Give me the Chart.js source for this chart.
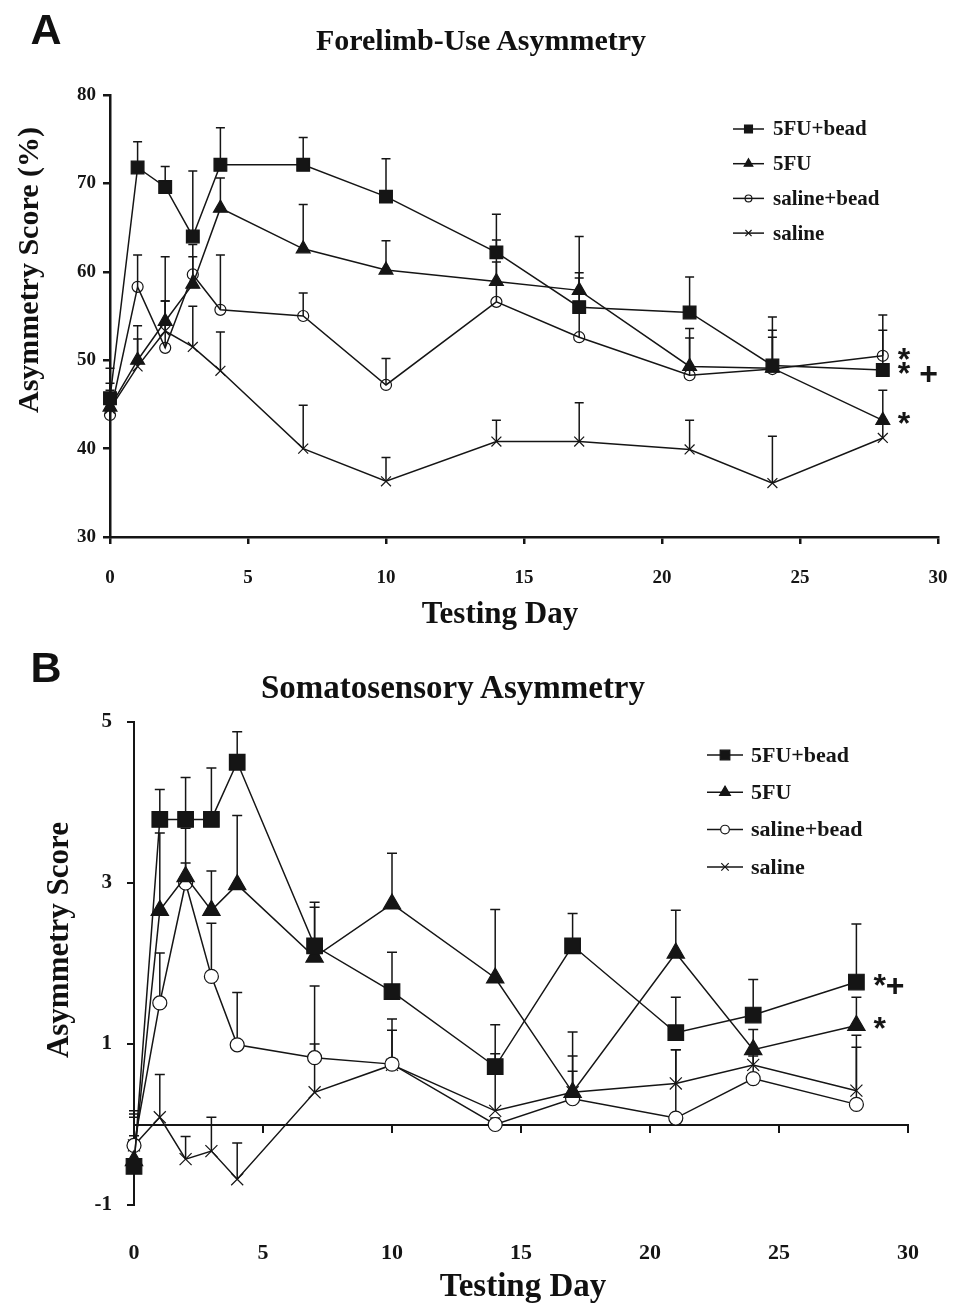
<!DOCTYPE html>
<html>
<head>
<meta charset="utf-8">
<script src="https://cdn.jsdelivr.net/npm/chart.js"></script>
<style>
  body { margin: 0; background: #fff; }
  #page { position: relative; width: 954px; height: 1307px; overflow: hidden; background: #fff; }
  canvas { position: absolute; left: 0; }
  .lbl { position: absolute; transform: translate(-50%, -50%); line-height: 1; white-space: nowrap; color: #111;
         font-family: 'Liberation Serif', 'Times New Roman', serif; font-weight: bold; }
  .panel { font-family: 'Liberation Sans', Arial, sans-serif; }
  .rot { transform: translate(-50%, -50%) rotate(-90deg); }
</style>
</head>
<body>
<div id="page">
  <canvas id="chartA" width="954" height="640" style="top:0"></canvas>
  <canvas id="chartB" width="954" height="667" style="top:640px"></canvas>

  <div class="lbl panel" style="left:46px;top:29px;font-size:43px">A</div>
  <div class="lbl" style="left:481px;top:40px;font-size:30px">Forelimb-Use Asymmetry</div>
  <div class="lbl rot" style="left:28px;top:270px;font-size:30px">Asymmetry Score (%)</div>
  <div class="lbl" style="left:500px;top:612px;font-size:31px">Testing Day</div>

  <div class="lbl panel" style="left:46px;top:667px;font-size:43px">B</div>
  <div class="lbl" style="left:453px;top:687px;font-size:33px">Somatosensory Asymmetry</div>
  <div class="lbl rot" style="left:57px;top:940px;font-size:31px">Asymmetry Score</div>
  <div class="lbl" style="left:523px;top:1285px;font-size:33px">Testing Day</div>
</div>

<script>
// testing days and group names
var days = [0, 1, 2, 3, 4, 7, 10, 14, 17, 21, 24, 28];
var groups = ['5FU+bead', '5FU', 'saline+bead', 'saline'];
var xTicks = [0, 5, 10, 15, 20, 25, 30];
var yTicksA = [30, 40, 50, 60, 70, 80];
var yTicksB = [-1, 1, 3, 5];

// A: forelimb-use asymmetry (%), mean and upper SEM
var forelimbBead = [45.7, 71.8, 69.6, 64.0, 72.1, 72.1, 68.5, 62.2, 56.0, 55.4, 49.4, 48.9];
var forelimb5FU = [44.7, 50.0, 54.4, 58.6, 67.2, 62.6, 60.2, 58.9, 57.9, 49.3, 49.1, 43.2];
var forelimbSalBead = [43.8, 58.3, 51.4, 59.7, 55.7, 55.0, 47.2, 56.6, 52.6, 48.3, 49.0, 50.5];
var forelimbSaline = [44.5, 49.3, 53.3, 51.5, 48.8, 40.0, 36.3, 40.8, 40.8, 39.9, 36.1, 41.2];
var forelimbBeadSem = [1.7, 2.9, 2.3, 7.4, 4.2, 3.1, 4.3, 4.3, 8.0, 4.0, 5.5, 4.5];
var forelimb5FUSem = [4.4, 3.9, 7.3, 4.5, 3.4, 5.0, 3.3, 4.7, 1.4, 4.3, 4.3, 3.4];
var forelimbSalBeadSem = [1.7, 3.6, 5.3, 2.0, 6.2, 2.6, 3.0, 4.5, 7.3, 4.2, 3.6, 4.6];
var forelimbSalineSem = [2.1, 3.1, 3.4, 4.6, 4.4, 4.9, 2.7, 2.4, 4.4, 3.3, 5.3, 2.0];
var forelimbMarks = ['* +', '*', '*', ''];

// B: somatosensory asymmetry score, mean and upper SEM
var somaBead = [-0.52, 3.79, 3.79, 3.79, 4.5, 2.22, 1.65, 0.72, 2.22, 1.14, 1.36, 1.77];
var soma5FU = [-0.45, 2.66, 3.08, 2.66, 2.98, 2.08, 2.74, 1.82, 0.40, 2.13, 0.93, 1.23];
var somaSalBead = [-0.26, 1.51, 3.0, 1.84, 0.99, 0.83, 0.75, 0.0, 0.32, 0.08, 0.57, 0.25];
var somaSaline = [-0.26, 0.09, -0.43, -0.33, -0.68, 0.40, 0.74, 0.17, 0.40, 0.51, 0.74, 0.42];
var somaBeadSem = [0.69, 0.37, 0.52, 0.64, 0.38, 0.54, 0.49, 0.52, 0.40, 0.44, 0.44, 0.72];
var soma5FUSem = [0.58, 0.96, 0.60, 0.49, 0.86, 0.62, 0.63, 0.85, 0.75, 0.53, 0.25, 0.35];
var somaSalBeadSem = [0.35, 0.62, 0.25, 0.66, 0.65, 0.89, 0.56, 0.08, 0.34, 0.85, 0.28, 0.71];
var somaSalineSem = [0.12, 0.53, 0.28, 0.42, 0.45, 0.60, 0.43, 0.71, 0.45, 0.42, 0.14, 0.69];
var somaMarks = ['*+', '*', '', ''];

var ink = '#151515';
var serif = "'Liberation Serif', 'Times New Roman', serif";

// upper error bars drawn from each point through the chart scales
var errorBars = {
    id: 'errorBars',
    beforeDatasetsDraw: function(chart, args, opts) {
        var ctx = chart.ctx, xs = chart.scales.x, ys = chart.scales.y;
        ctx.save();
        ctx.strokeStyle = ink;
        ctx.lineWidth = opts.width;
        chart.data.datasets.forEach(function(ds) {
            ds.data.forEach(function(p, j) {
                var x = xs.getPixelForValue(p.x);
                var y0 = ys.getPixelForValue(p.y);
                var y1 = ys.getPixelForValue(p.y + ds.sem[j]);
                ctx.beginPath();
                ctx.moveTo(x, y0);
                ctx.lineTo(x, y1);
                ctx.moveTo(x - opts.cap, y1);
                ctx.lineTo(x + opts.cap, y1);
                ctx.stroke();
            });
        });
        ctx.restore();
    }
};

// legend box inside the plot, like the original figure
var insideLegend = {
    id: 'insideLegend',
    afterDraw: function(chart, args, opts) {
        var ctx = chart.ctx;
        ctx.save();
        chart.data.datasets.forEach(function(ds, i) {
            var y = opts.top + i * opts.gap;
            ctx.strokeStyle = ink;
            ctx.lineWidth = 1.5;
            ctx.beginPath();
            ctx.moveTo(opts.left, y);
            ctx.lineTo(opts.left + opts.line, y);
            ctx.stroke();
            ctx.fillStyle = ds.pointBackgroundColor;
            ctx.lineWidth = 1.2;
            Chart.helpers.drawPoint(ctx, {
                pointStyle: ds.pointStyle,
                radius: ds.pointRadius * opts.scale,
                borderWidth: 1.2,
                rotation: 0
            }, opts.left + opts.line / 2, y);
            ctx.fillStyle = ink;
            ctx.font = opts.font;
            ctx.textAlign = 'left';
            ctx.textBaseline = 'middle';
            ctx.fillText(ds.label, opts.left + opts.line + opts.textGap, y + 1);
        });
        ctx.restore();
    }
};

// significance marks after the last point of a series
var sigMarks = {
    id: 'sigMarks',
    afterDatasetsDraw: function(chart, args, opts) {
        var ctx = chart.ctx, xs = chart.scales.x, ys = chart.scales.y;
        ctx.save();
        ctx.fillStyle = ink;
        ctx.font = opts.font;
        ctx.textAlign = 'left';
        ctx.textBaseline = 'alphabetic';
        chart.data.datasets.forEach(function(ds, i) {
            var txt = opts.marks[i];
            if (!txt) return;
            var last = ds.data[ds.data.length - 1];
            ctx.fillText(txt, xs.getPixelForValue(last.x) + opts.dx, ys.getPixelForValue(last.y) + opts.dy);
        });
        ctx.restore();
    }
};

function makeSets(values, sems, sizes, hollowFill) {
    var styles = ['rect', 'triangle', 'circle', 'crossRot'];
    var fills = [ink, ink, hollowFill, ink];
    return values.map(function(vals, i) {
        return {
            label: groups[i],
            data: days.map(function(d, j) { return { x: d, y: vals[j] }; }),
            sem: sems[i],
            borderColor: ink,
            borderWidth: 1.5,
            tension: 0,
            fill: false,
            clip: false,
            pointStyle: styles[i],
            pointRadius: sizes[i],
            pointBackgroundColor: fills[i],
            pointBorderColor: ink,
            pointBorderWidth: 1.2
        };
    });
}

function axisGrid(width) {
    return { display: true, drawOnChartArea: false, drawTicks: true, tickLength: 7, color: ink, lineWidth: width };
}

window.addEventListener('load', function() {
    new Chart(document.getElementById('chartA'), {
        type: 'line',
        data: {
            datasets: makeSets(
                [forelimbBead, forelimb5FU, forelimbSalBead, forelimbSaline],
                [forelimbBeadSem, forelimb5FUSem, forelimbSalBeadSem, forelimbSalineSem],
                [9, 8, 5.5, 7], 'rgba(0,0,0,0)')
        },
        options: {
            responsive: false,
            animation: false,
            devicePixelRatio: 1,
            layout: { padding: { left: 0, right: 16, top: 95, bottom: 0 } },
            plugins: {
                legend: { display: false },
                tooltip: { enabled: false },
                errorBars: { width: 1.5, cap: 4.5 },
                insideLegend: { left: 733, top: 129, gap: 34.7, line: 31, textGap: 9, scale: 0.62, font: 'bold 21px ' + serif },
                sigMarks: { marks: forelimbMarks, dx: 15, dy: 14, font: 'bold 32px "Liberation Sans", Arial, sans-serif' }
            },
            scales: {
                x: {
                    type: 'linear',
                    min: xTicks[0], max: xTicks[xTicks.length - 1],
                    // tall line height pushes the labels down without widening the side padding
                    ticks: { stepSize: 5, color: ink, padding: 3, maxRotation: 0, font: { family: serif, size: 19, weight: 'bold', lineHeight: 3.3 } },
                    grid: axisGrid(2.5),
                    border: { display: true, color: ink, width: 2.5 },
                    afterFit: function(s) { s.height = 103; }
                },
                y: {
                    type: 'linear',
                    min: yTicksA[0], max: yTicksA[yTicksA.length - 1],
                    ticks: { stepSize: 10, color: ink, padding: 7, font: { family: serif, size: 19, weight: 'bold' } },
                    grid: axisGrid(2.5),
                    border: { display: true, color: ink, width: 2.5 },
                    afterFit: function(s) { s.width = 110; }
                }
            }
        },
        plugins: [errorBars, insideLegend, sigMarks]
    });

    new Chart(document.getElementById('chartB'), {
        type: 'line',
        data: {
            datasets: makeSets(
                [somaBead, soma5FU, somaSalBead, somaSaline],
                [somaBeadSem, soma5FUSem, somaSalBeadSem, somaSalineSem],
                [11, 10, 7, 8.5], '#fff')
        },
        options: {
            responsive: false,
            animation: false,
            devicePixelRatio: 1,
            layout: { padding: { left: 0, right: 46, top: 82, bottom: 0 } },
            plugins: {
                legend: { display: false },
                tooltip: { enabled: false },
                errorBars: { width: 1.5, cap: 5 },
                insideLegend: { left: 707, top: 115, gap: 37.3, line: 36, textGap: 8, scale: 0.62, font: 'bold 22px ' + serif },
                sigMarks: { marks: somaMarks, dx: 17, dy: 14, font: 'bold 32px "Liberation Sans", Arial, sans-serif' }
            },
            scales: {
                // axis line at y = 0, ticks only
                x: {
                    type: 'linear',
                    axis: 'x',
                    position: { y: 0 },
                    min: xTicks[0], max: xTicks[xTicks.length - 1],
                    ticks: { stepSize: 5, display: false },
                    grid: axisGrid(2),
                    border: { display: true, color: ink, width: 2 }
                },
                // labels below the plot
                x2: {
                    type: 'linear',
                    axis: 'x',
                    position: 'bottom',
                    min: xTicks[0], max: xTicks[xTicks.length - 1],
                    ticks: { stepSize: 5, color: ink, padding: 27, maxRotation: 0, font: { family: serif, size: 22, weight: 'bold' } },
                    grid: { display: false },
                    border: { display: false },
                    afterFit: function(s) { s.height = 102; }
                },
                y: {
                    type: 'linear',
                    min: yTicksB[0], max: yTicksB[yTicksB.length - 1],
                    ticks: { stepSize: 2, color: ink, padding: 15, font: { family: serif, size: 21, weight: 'bold' } },
                    grid: axisGrid(2),
                    border: { display: true, color: ink, width: 2 },
                    afterFit: function(s) { s.width = 134; }
                }
            }
        },
        plugins: [errorBars, insideLegend, sigMarks]
    });
});
</script>
</body>
</html>
